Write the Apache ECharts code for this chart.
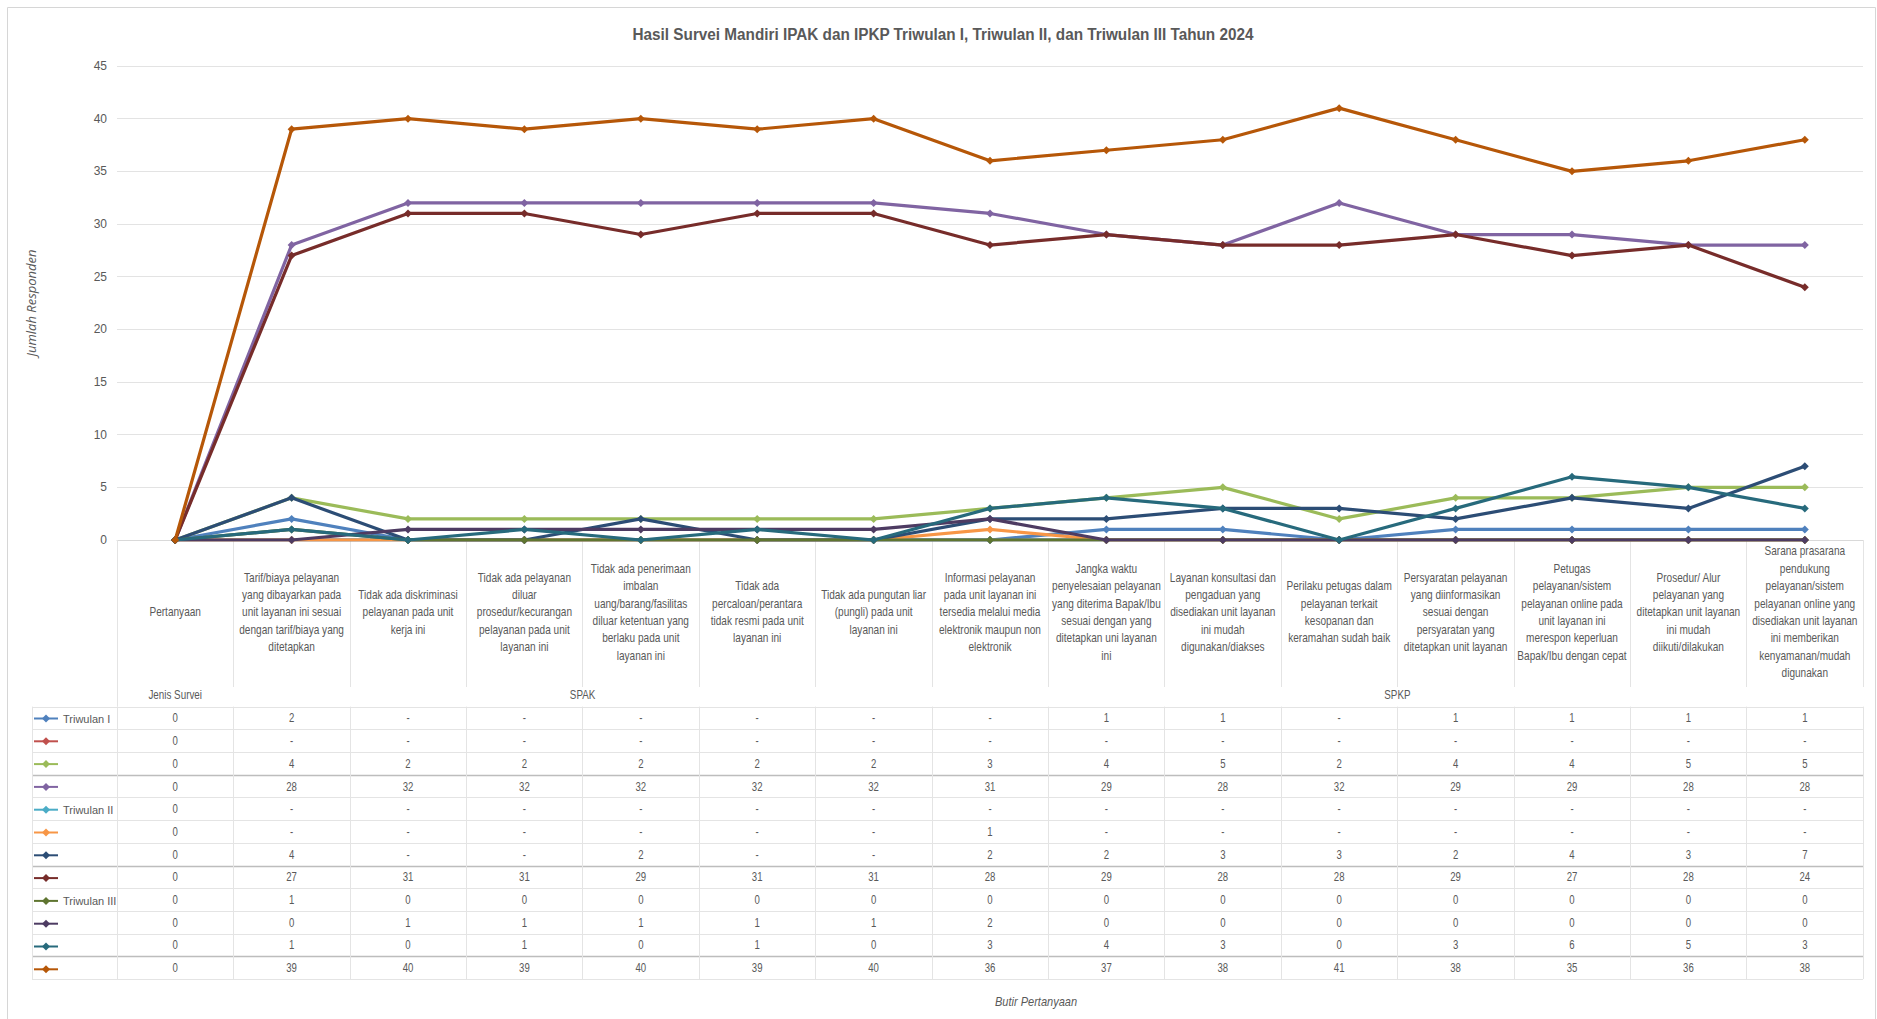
<!DOCTYPE html>
<html>
<head>
<meta charset="utf-8">
<script src="https://cdn.jsdelivr.net/npm/echarts@6/dist/echarts.min.js"></script>
<style>
html,body{margin:0;padding:0;background:#ffffff;}
#chart{width:1877px;height:1019px;}
</style>
</head>
<body>
<div id="chart"></div>
<script>
// ---------------- DATA ----------------
const chartTitle = 'Hasil Survei Mandiri IPAK dan IPKP Triwulan I, Triwulan II, dan Triwulan III Tahun 2024';
const yAxisTitle = 'Jumlah Responden';
const xAxisTitle = 'Butir Pertanyaan';

const categories = [
  'Pertanyaan',
  'Tarif/biaya pelayanan\nyang dibayarkan pada\nunit layanan ini sesuai\ndengan tarif/biaya yang\nditetapkan',
  'Tidak ada diskriminasi\npelayanan pada unit\nkerja ini',
  'Tidak ada pelayanan\ndiluar\nprosedur/kecurangan\npelayanan pada unit\nlayanan ini',
  'Tidak ada penerimaan\nimbalan\nuang/barang/fasilitas\ndiluar ketentuan yang\nberlaku pada unit\nlayanan ini',
  'Tidak ada\npercaloan/perantara\ntidak resmi pada unit\nlayanan ini',
  'Tidak ada pungutan liar\n(pungli) pada unit\nlayanan ini',
  'Informasi pelayanan\npada unit layanan ini\ntersedia melalui media\nelektronik maupun non\nelektronik',
  'Jangka waktu\npenyelesaian pelayanan\nyang diterima Bapak/Ibu\nsesuai dengan yang\nditetapkan uni layanan\nini',
  'Layanan konsultasi dan\npengaduan yang\ndisediakan unit layanan\nini mudah\ndigunakan/diakses',
  'Perilaku petugas dalam\npelayanan terkait\nkesopanan dan\nkeramahan sudah baik',
  'Persyaratan pelayanan\nyang diinformasikan\nsesuai dengan\npersyaratan yang\nditetapkan unit layanan',
  'Petugas\npelayanan/sistem\npelayanan online pada\nunit layanan ini\nmerespon keperluan\nBapak/Ibu dengan cepat',
  'Prosedur/ Alur\npelayanan yang\nditetapkan unit layanan\nini mudah\ndiikuti/dilakukan',
  'Sarana prasarana\npendukung\npelayanan/sistem\npelayanan online yang\ndisediakan unit layanan\nini memberikan\nkenyamanan/mudah\ndigunakan'
];

const surveyTypeLabel = 'Jenis Survei';
const surveyGroups = ['SPAK', 'SPKP'];
const surveyGroupRanges = [[1, 6], [7, 14]];

const legendLabels = ['Triwulan I', '', '', '', 'Triwulan II', '', '', '', 'Triwulan III', '', '', ''];

const tw1a = [0, 2, 0, 0, 0, 0, 0, 0, 1, 1, 0, 1, 1, 1, 1];
const tw1b = [0, 0, 0, 0, 0, 0, 0, 0, 0, 0, 0, 0, 0, 0, 0];
const tw1c = [0, 4, 2, 2, 2, 2, 2, 3, 4, 5, 2, 4, 4, 5, 5];
const tw1d = [0, 28, 32, 32, 32, 32, 32, 31, 29, 28, 32, 29, 29, 28, 28];
const tw2a = [0, 0, 0, 0, 0, 0, 0, 0, 0, 0, 0, 0, 0, 0, 0];
const tw2b = [0, 0, 0, 0, 0, 0, 0, 1, 0, 0, 0, 0, 0, 0, 0];
const tw2c = [0, 4, 0, 0, 2, 0, 0, 2, 2, 3, 3, 2, 4, 3, 7];
const tw2d = [0, 27, 31, 31, 29, 31, 31, 28, 29, 28, 28, 29, 27, 28, 24];
const tw3a = [0, 1, 0, 0, 0, 0, 0, 0, 0, 0, 0, 0, 0, 0, 0];
const tw3b = [0, 0, 1, 1, 1, 1, 1, 2, 0, 0, 0, 0, 0, 0, 0];
const tw3c = [0, 1, 0, 1, 0, 1, 0, 3, 4, 3, 0, 3, 6, 5, 3];
const tw3d = [0, 39, 40, 39, 40, 39, 40, 36, 37, 38, 41, 38, 35, 36, 38];

// rows whose zero cells (after the first column) are printed as "-"
const dashZeroRows = [true, true, true, true, true, true, true, true, false, false, false, false];

// ---------------- STYLE / LAYOUT ----------------
const rows = [tw1a, tw1b, tw1c, tw1d, tw2a, tw2b, tw2c, tw2d, tw3a, tw3b, tw3c, tw3d];
const seriesIds = ['tw1a', 'tw1b', 'tw1c', 'tw1d', 'tw2a', 'tw2b', 'tw2c', 'tw2d', 'tw3a', 'tw3b', 'tw3c', 'tw3d'];
const colors = ['#4F81BD', '#C0504D', '#9BBB59', '#8064A2', '#4BACC6', '#F79646',
                '#2C4D75', '#772C2A', '#5F7530', '#4D3B62', '#276A7C', '#B65708'];
const FONT = '"Liberation Sans", Arial, sans-serif';
const TXT = '#595959';
const NARROW = 0.82;         // horizontal squeeze of the condensed Excel-like text
const AXIS_Y = 540;          // pixel y of the category axis
const HEADER_Y = 612;        // center of question header row
const HEADER_BOTTOM = 687;
const SURVEY_Y = 695;        // "Jenis Survei" row
const ROW0 = 718;            // center of first table row
const ROWH = 22.7;           // table row height
const TABLE_TOP = ROW0 - ROWH / 2;
const LEFT_EDGE = 32;

function cellText(r, i) {
  const v = rows[r][i];
  if (v === 0 && i > 0 && dashZeroRows[r]) return '-';
  return String(v);
}

const xAxes = [
  { // main category axis; long ticks form header column separators
    type: 'category', data: categories, boundaryGap: true,
    axisLine: { show: true, lineStyle: { color: '#d9d9d9', width: 1 } },
    axisTick: { show: true, interval: 0, length: HEADER_BOTTOM - AXIS_Y, lineStyle: { color: '#e4e4e4' } },
    axisLabel: { show: false }, splitLine: { show: false }
  },
  { // column separators of the data table
    type: 'category', data: categories, position: 'bottom', offset: TABLE_TOP - AXIS_Y,
    axisLine: { show: false },
    axisTick: { show: true, interval: 0, length: ROWH * 12, lineStyle: { color: '#e4e4e4' } },
    axisLabel: { show: false }
  }
];

const series = rows.map((row, r) => ({
  type: 'line', name: seriesIds[r], data: row, xAxisIndex: 0, yAxisIndex: 0,
  symbol: 'diamond', symbolSize: 8,
  lineStyle: { width: 3.2, color: colors[r] },
  itemStyle: { color: colors[r] },
  z: 2 + r * 0.01
}));

const chart = echarts.init(document.getElementById('chart'), null, { renderer: 'svg' });
const option = {
  backgroundColor: '#ffffff',
  animation: false,
  color: colors,
  legend: {
    orient: 'vertical', left: 33, top: ROW0 - 5, padding: 0,
    itemWidth: 24, itemHeight: 10, itemGap: ROWH - 10.9,
    data: seriesIds,
    formatter: name => legendLabels[seriesIds.indexOf(name)] || ' ',
    textStyle: { fontFamily: FONT, fontSize: 11, color: TXT, lineHeight: 10 },
    selectedMode: false
  },
  grid: { left: 117, right: 14, top: 66, bottom: 1019 - AXIS_Y, containLabel: false, outerBoundsMode: 'none' },
  xAxis: xAxes,
  yAxis: {
    type: 'value', min: 0, max: 45, interval: 5,
    name: yAxisTitle, nameLocation: 'middle', nameGap: 80, nameRotate: 90,
    nameTextStyle: { fontFamily: '"Open Sans",sans-serif', fontStyle: 'italic', fontSize: 13, color: TXT },
    axisLine: { show: false }, axisTick: { show: false },
    axisLabel: { margin: 10, fontSize: 12, color: TXT, fontFamily: FONT },
    splitLine: { lineStyle: { color: '#e3e3e3', width: 1 } }
  },
  series: series
};
chart.setOption(option);

// ----- titles and data table, positioned through the category axis -----
const px = i => chart.convertToPixel({ xAxisIndex: 0 }, i);
const band = px(1) - px(0);
const xLeft = px(0) - band / 2;
const xRight = px(categories.length - 1) + band / 2;
const g = [];
function txt(text, x, y, extra) {
  const st = Object.assign({ text: text, fontFamily: FONT, fontSize: 12, fill: TXT,
    align: 'center', verticalAlign: 'middle' }, (extra && extra.style) || {});
  g.push({ type: 'text', silent: true, x: x, y: y, scaleX: (extra && extra.scaleX) || NARROW, style: st });
}
// frame
g.push({ type: 'rect', silent: true, shape: { x: 7.5, y: 7.5, width: 1868, height: 1020 },
  style: { fill: null, stroke: '#d6d6d6', lineWidth: 1 } });
// titles
txt(chartTitle, 943, 34, { scaleX: 0.9, style: { fontSize: 17, fontWeight: 'bold' } });
txt(xAxisTitle, 1036, 1002, { scaleX: 0.85, style: { fontSize: 13, fontStyle: 'italic' } });
// horizontal table rules
for (let k = 0; k <= rows.length; k++) {
  const y = Math.round(TABLE_TOP + ROWH * k) + 0.5;
  const dark = (k === 3 || k === 7 || k === 11);
  g.push({ type: 'line', silent: true, shape: { x1: LEFT_EDGE, y1: y, x2: xRight, y2: y },
    style: { stroke: dark ? '#bdbdbd' : '#e4e4e4', lineWidth: dark ? 1.5 : 1 } });
}
g.push({ type: 'line', silent: true, shape: { x1: LEFT_EDGE + 0.5, y1: TABLE_TOP, x2: LEFT_EDGE + 0.5, y2: TABLE_TOP + ROWH * 12 },
  style: { stroke: '#e4e4e4', lineWidth: 1 } });
g.push({ type: 'line', silent: true, shape: { x1: Math.round(xLeft) + 0.5, y1: HEADER_BOTTOM, x2: Math.round(xLeft) + 0.5, y2: TABLE_TOP },
  style: { stroke: '#e4e4e4', lineWidth: 1 } });
// header row (question texts)
categories.forEach((c, i) => txt(c, px(i), HEADER_Y, { scaleX: 0.84, style: { lineHeight: 17.4 } }));
// survey type row
txt(surveyTypeLabel, px(0), SURVEY_Y);
surveyGroups.forEach((s, gi) => {
  const [a, b] = surveyGroupRanges[gi];
  txt(s, (px(a) + px(b)) / 2, SURVEY_Y);
});
// data cells
rows.forEach((row, r) => {
  row.forEach((v, i) => txt(cellText(r, i), px(i), ROW0 + ROWH * r, { scaleX: 0.8 }));
});
chart.setOption({ graphic: g });
</script>
</body>
</html>
